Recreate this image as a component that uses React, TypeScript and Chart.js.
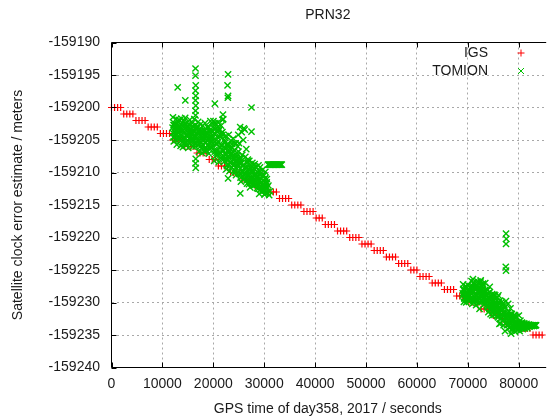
import React, { useEffect, useRef } from 'react';
import { Chart, registerables } from 'chart.js';

Chart.register(...registerables);

// ---------- axes / text ----------
const X_MIN = 0;
const X_MAX = 85000;
const Y_MIN = -159240;
const Y_MAX = -159190;
const xTicks = [0, 10000, 20000, 30000, 40000, 50000, 60000, 70000, 80000];
const yTicks = [-159240, -159235, -159230, -159225, -159220, -159215, -159210, -159205, -159200, -159195, -159190];

const TITLE = 'PRN32';
const X_TITLE = 'GPS time of day358, 2017 / seconds';
const Y_TITLE = 'Satellite clock error estimate / meters';
const SERIES_LABELS = ['IGS', 'TOMION'];
const SERIES_COLORS = ['#ff0000', '#00c000'];

// ---------- IGS (sampled every 600 s from 0 s) ----------
const IGS_START = 0;
const IGS_INTERVAL = 600;
const igsValues = [
  -159200, -159200, -159200, -159200,
  -159201, -159201, -159201, -159201,
  -159202, -159202, -159202, -159202,
  -159203, -159203, -159203, -159203,
  -159204, -159204, -159204, -159204,
  -159205, -159205, -159205, -159205,
  -159206, -159206, -159206, -159206,
  -159207, -159207, -159207, -159207,
  -159208, -159208, -159208,
  -159209, -159209, -159209, -159209,
  -159210, -159210, -159210, -159210,
  -159211, -159211, -159211, -159211,
  -159212, -159212, -159212, -159212,
  -159213, -159213, -159213, -159213,
  -159214, -159214, -159214, -159214,
  -159215, -159215, -159215, -159215,
  -159216, -159216, -159216, -159216,
  -159217, -159217, -159217,
  -159218, -159218, -159218, -159218,
  -159219, -159219, -159219, -159219,
  -159220, -159220, -159220, -159220,
  -159221, -159221, -159221, -159221,
  -159222, -159222, -159222, -159222,
  -159223, -159223, -159223, -159223,
  -159224, -159224, -159224, -159224,
  -159225, -159225, -159225,
  -159226, -159226, -159226, -159226,
  -159227, -159227, -159227, -159227,
  -159228, -159228, -159228, -159228,
  -159229, -159229, -159229, -159229,
  -159230, -159230, -159230, -159230,
  -159231, -159231, -159231, -159231,
  -159232, -159232, -159232, -159232,
  -159233, -159233, -159233, -159233, -159233,
  -159234, -159234, -159234, -159234,
  -159235, -159235, -159235, -159235,
];

// ---------- TOMION ----------
const TOMION_INTERVAL = 150;
// first arc, samples from 12000 s
const TOMION_A_START = 12000;
const tomionAValues = [
  -159203.1, -159204.6, -159202.4, -159203.8, -159205.0, -159202.9, -159204.1, -159203.3, -159201.9, -159204.8, -159203.6,
  -159204.2, -159202.8, -159205.3, -159203.5, -159204.9, -159202.5, -159203.9, -159205.8, -159204.4, -159203.1, -159202.6,
  -159204.7, -159205.5, -159203.4, -159204.0, -159202.9, -159205.1, -159203.7, -159204.5, -159206.0, -159203.2, -159204.3, -159205.2,
  -159204.1, -159205.6, -159203.3, -159204.8, -159206.2, -159203.9, -159205.0, -159204.3, -159206.7, -159203.6,
  -159205.4, -159204.6, -159203.1, -159205.9, -159204.9, -159206.4, -159204.0, -159205.2, -159203.7, -159206.0,
  -159203.2, -159206.5, -159204.1, -159207.4, -159203.6, -159205.3, -159202.9, -159206.9, -159204.5, -159207.8, -159203.9, -159205.8, -159206.6,
  -159206.1, -159208.3, -159205.4, -159207.2, -159208.9, -159206.6, -159205.8, -159207.8, -159206.3, -159208.6, -159207.0, -159205.6, -159208.0,
  -159207.5, -159209.6, -159208.2, -159210.4, -159207.0, -159209.0, -159204.2, -159205.5, -159208.6, -159210.8, -159207.8, -159209.9, -159208.9, -159211.0, -159209.3, -159210.1,
  -159209.1, -159211.2, -159208.5, -159210.3, -159211.8, -159209.6, -159210.9, -159208.9, -159211.5, -159210.0, -159209.4, -159212.0, -159210.6,
  -159210.2, -159211.9, -159210.8, -159212.5, -159211.1, -159209.8, -159212.2, -159211.5, -159210.5, -159212.8, -159211.3, -159212.0, -159210.9, -159212.6, -159211.7, -159212.3,
];
// first arc, interleaved samples from 12075 s
const TOMION_A2_START = 12075;
const tomionA2Values = [
  -159201.5, -159205.2, -159202.7, -159204.3, -159201.8, -159205.7, -159203.0, -159202.2, -159204.9, -159202.0,
  -159205.9, -159201.7, -159203.6, -159206.1, -159202.1, -159204.6, -159201.6, -159205.4, -159203.0, -159202.3, -159206.2, -159204.0,
  -159201.9, -159205.0, -159203.8, -159202.4, -159206.0, -159204.4, -159201.8, -159205.6, -159202.7, -159203.3, -159205.7,
  -159202.2, -159206.8, -159203.4, -159202.6, -159205.3, -159207.0, -159202.8, -159204.6, -159206.3, -159202.4,
  -159203.9, -159206.6, -159205.1, -159202.9, -159207.1, -159203.5, -159202.1, -159206.2, -159204.8, -159202.5,
  -159202.1, -159208.2, -159204.8, -159202.6, -159207.0, -159205.6, -159202.3, -159208.4, -159203.4, -159206.2, -159202.8, -159207.6, -159204.2, -159208.0, -159205.0, -159207.2,
  -159204.4, -159209.5, -159205.9, -159208.1, -159204.2, -159209.8, -159207.3, -159205.1, -159209.2, -159206.8,
  -159204.8, -159208.7, -159210.0, -159205.5, -159207.6, -159209.4, -159206.0, -159208.4, -159210.2,
  -159203.0, -159211.4, -159203.8, -159209.7, -159205.0, -159211.0, -159203.4, -159210.3, -159206.4, -159211.7, -159208.0, -159210.6,
  -159208.2, -159212.3, -159209.4, -159211.0, -159208.5, -159212.0, -159210.4, -159208.7, -159211.8, -159209.2, -159212.4, -159210.7, -159208.9,
  -159213.3, -159209.2, -159211.6, -159213.0, -159209.6, -159212.7, -159210.4, -159213.4, -159209.9, -159212.4, -159211.0, -159213.1, -159212.0, -159213.5, -159212.9,
];
// first arc, interleaved samples from 12040 s
const TOMION_A3_START = 12040;
const tomionA3Values = [
  -159203.9, -159202.7, -159204.5, -159203.2, -159204.0, -159202.6, -159203.6, -159204.7, -159203.0, -159202.9, -159204.3,
  -159203.4, -159205.0, -159202.9, -159204.6, -159203.8, -159205.4, -159203.1, -159204.2, -159202.8, -159205.1, -159203.9, -159204.8,
  -159203.3, -159205.3, -159204.1, -159202.9, -159204.9, -159203.6, -159205.5, -159204.4, -159203.0, -159204.7, -159203.7,
  -159205.1, -159203.8, -159206.0, -159204.4, -159203.6, -159205.7, -159204.9, -159203.5, -159205.4, -159206.2,
  -159204.2, -159203.9, -159205.8, -159204.7, -159203.7, -159205.2, -159206.1, -159204.5, -159203.6, -159205.5,
  -159204.0, -159206.8, -159203.3, -159205.6, -159207.3, -159204.6, -159203.5, -159206.1, -159207.0, -159204.3, -159205.9, -159203.8, -159206.6, -159207.5, -159205.2,
  -159206.4, -159208.0, -159205.7, -159207.5, -159208.8, -159206.9, -159205.9, -159208.4, -159207.1, -159206.2,
  -159208.9, -159207.8, -159206.6, -159205.6, -159208.2, -159207.4, -159208.7, -159206.8, -159207.9,
  -159207.9, -159210.2, -159208.6, -159207.3, -159209.8, -159208.9, -159210.5, -159207.6, -159209.3, -159210.0, -159208.3, -159209.6,
  -159210.1, -159211.5, -159209.3, -159210.8, -159211.7, -159209.7, -159211.1, -159210.4, -159209.1, -159211.3, -159210.6, -159209.9, -159211.8,
  -159211.4, -159210.3, -159212.6, -159211.0, -159212.2, -159210.6, -159211.8, -159212.8, -159210.9, -159212.0, -159211.5,
];
// second arc, samples from 69000 s
const TOMION_B_START = 69000;
const tomionBValues = [
  -159228.6, -159227.9, -159229.3, -159228.2, -159229.6, -159227.6, -159228.9, -159229.1, -159228.0, -159229.5, -159228.4,
  -159227.5, -159229.2, -159228.3, -159229.8, -159227.2, -159228.7, -159229.4, -159228.0, -159227.8, -159229.6,
  -159228.5, -159227.0, -159229.0, -159228.2, -159229.9, -159227.6, -159228.8, -159229.3, -159228.1, -159230.1,
  -159229.0, -159230.6, -159228.6, -159229.8, -159231.0, -159229.3, -159230.2, -159228.9, -159230.9, -159229.6, -159230.4, -159231.2, -159229.9,
  -159230.5, -159232.1, -159231.0, -159229.9, -159231.7, -159230.8, -159232.4, -159231.3, -159230.3, -159232.0, -159231.5, -159230.7, -159232.3,
  -159232.2, -159233.5, -159231.6, -159232.9, -159233.9, -159232.5, -159231.9, -159233.2, -159234.0, -159232.7, -159233.6, -159232.3, -159233.3,
  -159233.4, -159233.8, -159233.1, -159233.6, -159234.1, -159233.3, -159233.7, -159233.5, -159233.2, -159233.9, -159233.6, -159233.4, -159233.5,
  -159233.7, -159233.6, -159233.5, -159233.5, -159233.6, -159233.5, -159233.5, -159233.6, -159233.5, -159233.5, -159233.6, -159233.5, -159233.5, -159233.5,
];
// second arc, interleaved samples from 69075 s
const TOMION_B2_START = 69075;
const tomionB2Values = [
  -159227.2, -159229.9, -159228.3, -159227.5, -159230.0, -159228.8, -159227.3, -159229.7, -159228.0, -159229.0, -159227.7,
  -159226.7, -159230.2, -159228.4, -159226.9, -159229.7, -159227.4, -159230.4, -159228.9, -159226.8, -159229.2, -159227.7,
  -159230.0, -159226.6, -159228.6, -159229.9, -159227.1, -159230.3, -159228.3, -159227.0, -159229.5, -159230.4,
  -159228.1, -159231.5, -159229.4, -159228.4, -159231.8, -159230.3, -159228.7, -159231.2, -159229.7, -159231.9, -159228.9, -159230.8,
  -159231.6, -159229.2, -159231.0, -159230.0,
  -159229.7, -159233.2, -159231.1, -159229.9, -159232.7, -159233.5, -159230.4, -159232.2, -159229.8, -159233.0, -159231.6, -159230.2,
  -159233.4, -159232.4, -159230.9,
  -159231.7, -159234.3, -159232.4, -159233.8, -159231.9, -159234.5, -159233.0, -159232.2, -159234.2, -159233.5, -159232.0, -159234.4,
  -159232.8, -159233.9,
  -159233.1, -159234.1, -159233.5, -159233.2, -159234.0, -159233.6, -159233.3, -159233.9, -159233.5, -159233.4, -159233.7, -159233.6,
  -159233.5, -159233.6, -159233.5, -159233.5, -159233.6, -159233.5, -159233.5,
];
// second arc, interleaved samples from 69040 s
const TOMION_B3_START = 69040;
const tomionB3Values = [
  -159228.9, -159228.1, -159229.4, -159228.5, -159227.9, -159229.2, -159228.7, -159229.5, -159228.3, -159229.0, -159227.8,
  -159228.6, -159227.4, -159229.5, -159228.2, -159229.1, -159227.7, -159228.9, -159229.8, -159227.5, -159228.4,
  -159229.3, -159227.9, -159228.8, -159229.6, -159228.0, -159227.3, -159229.0, -159228.5, -159229.7, -159228.2,
  -159229.8, -159228.9, -159230.7, -159229.4, -159230.1, -159231.0, -159229.1, -159230.4, -159229.6, -159230.9, -159228.8, -159230.2, -159229.9,
  -159231.2, -159230.4, -159232.3, -159230.9, -159231.6, -159232.5, -159230.6, -159231.9, -159230.2, -159232.1, -159231.4, -159230.8, -159232.4,
  -159232.6, -159231.9, -159233.4, -159232.2, -159233.0, -159233.8, -159232.4, -159231.8, -159233.6, -159232.8, -159233.2, -159232.0, -159233.7,
  -159233.3, -159233.7, -159233.5, -159233.9, -159233.4, -159233.6, -159233.2, -159233.8, -159233.5, -159233.6,
  -159233.4, -159233.5, -159233.7, -159233.5, -159233.6, -159233.5, -159233.5, -159233.6, -159233.5, -159233.5,
];
// flat segment after the first arc
const tomionBarTimes = [
  30750, 30900, 31050, 31200, 31350, 31500, 31650, 31800, 31950, 32100,
  32250, 32400, 32550, 32700, 32850, 33000, 33150, 33300, 33450,
];
const tomionBarValues = [
  -159208.8, -159208.8, -159208.8, -159208.8, -159208.8, -159208.8, -159208.8, -159208.8, -159208.8, -159208.8,
  -159208.8, -159208.8, -159208.8, -159208.8, -159208.8, -159208.8, -159208.8, -159208.8, -159208.8,
];
// scattered outliers
const tomionExtraTimes = [
  16500, 16500, 16550, 16500, 16550, 16500, 16550, 16500, 16500,
  16550, 16500, 16550,
  22900, 22800, 22900, 22850,
  13000, 14500, 20300, 20400, 27500, 27500, 22900, 25300, 30200, 21800, 26000, 21900, 21950,
  77500, 77550, 77500, 77450, 77500,
  71000, 72500, 74300, 76000, 72300, 74800, 77300, 78500, 76200,
];
const tomionExtraValues = [
  -159194.0, -159195.1, -159196.6, -159197.4, -159198.2, -159198.9, -159199.7, -159200.5, -159201.2,
  -159207.9, -159208.6, -159209.3,
  -159194.9, -159196.6, -159198.2, -159198.5,
  -159196.9, -159198.9, -159199.4, -159202.4, -159200.0, -159203.7, -159210.9, -159213.2, -159213.2, -159201.9, -159203.2, -159201.1, -159201.8,
  -159219.4, -159220.2, -159221.0, -159224.5, -159225.1,
  -159226.4, -159226.8, -159227.6, -159228.9, -159231.0, -159232.0, -159234.4, -159234.8, -159233.3,
];

const FONT_FAMILY = "'Liberation Sans', Arial, sans-serif";
const TEXT_COLOR = '#1a1a1a';

const framePlugin = {
  id: 'gnuplotFrame',
  afterDatasetsDraw(chart: any) {
    const { ctx, chartArea: a, scales } = chart;
    const xs = scales.x;
    const ys = scales.y;
    ctx.save();
    ctx.strokeStyle = '#000000';
    ctx.lineWidth = 1;
    ctx.setLineDash([]);
    ctx.beginPath();
    ctx.moveTo(a.left, a.top);
    ctx.lineTo(a.right + 2, a.top);
    ctx.moveTo(a.left, a.top);
    ctx.lineTo(a.left, a.bottom);
    ctx.moveTo(a.left, a.bottom);
    ctx.lineTo(a.right + 2, a.bottom);
    const tl = 5;
    for (const t of xs.ticks) {
      const px = Math.round(xs.getPixelForValue(t.value)) + 0.5;
      ctx.moveTo(px, a.bottom);
      ctx.lineTo(px, a.bottom - tl);
      ctx.moveTo(px, a.top);
      ctx.lineTo(px, a.top + tl);
    }
    for (const t of ys.ticks) {
      const py = Math.round(ys.getPixelForValue(t.value)) + 0.5;
      ctx.moveTo(a.left, py);
      ctx.lineTo(a.left + tl, py);
    }
    ctx.stroke();
    ctx.restore();
  },
  afterDraw(chart: any) {
    const { ctx, chartArea: a } = chart;
    ctx.save();
    ctx.font = `14px ${FONT_FAMILY}`;
    ctx.fillStyle = TEXT_COLOR;
    ctx.textAlign = 'right';
    ctx.textBaseline = 'middle';
    const textRight = 488;
    const markX = 521;
    const rows = [a.top + 10.5, a.top + 28.5];
    chart.data.datasets.forEach((ds: any, i: number) => {
      const y = rows[i];
      ctx.fillText(ds.label, textRight, y);
      ctx.strokeStyle = ds.borderColor;
      ctx.lineWidth = 1;
      ctx.beginPath();
      if (ds.pointStyle === 'cross') {
        ctx.moveTo(markX - 3.5, y);
        ctx.lineTo(markX + 3.5, y);
        ctx.moveTo(markX, y - 3.5);
        ctx.lineTo(markX, y + 3.5);
      } else {
        ctx.moveTo(markX - 3, y - 3);
        ctx.lineTo(markX + 3, y + 3);
        ctx.moveTo(markX - 3, y + 3);
        ctx.lineTo(markX + 3, y - 3);
      }
      ctx.stroke();
    });
    ctx.restore();
  },
};

const setTicks = (values: number[]) => (s: any) => {
  s.ticks = values.map((v) => ({ value: v }));
};

const seq = (start: number, values: number[]) =>
  values.map((v, i) => ({ x: start + i * TOMION_INTERVAL, y: v }));

export default function App() {
  const canvasRef = useRef<HTMLCanvasElement | null>(null);

  useEffect(() => {
    if (!canvasRef.current) return;
    const igsData = igsValues.map((v, i) => ({ x: IGS_START + i * IGS_INTERVAL, y: v }));
    const tomionData = [
      ...seq(TOMION_A_START, tomionAValues),
      ...seq(TOMION_A2_START, tomionA2Values),
      ...seq(TOMION_A3_START, tomionA3Values),
      ...tomionBarTimes.map((t, i) => ({ x: t, y: tomionBarValues[i] })),
      ...seq(TOMION_B_START, tomionBValues),
      ...seq(TOMION_B2_START, tomionB2Values),
      ...seq(TOMION_B3_START, tomionB3Values),
      ...tomionExtraTimes.map((t, i) => ({ x: t, y: tomionExtraValues[i] })),
    ];
    const font = { family: FONT_FAMILY, size: 14, weight: 'normal' as const };

    const chart = new Chart(canvasRef.current, {
      type: 'scatter',
      data: {
        datasets: [
          {
            label: SERIES_LABELS[0],
            data: igsData,
            pointStyle: 'cross',
            pointRadius: 3.5,
            pointHoverRadius: 3.5,
            borderColor: SERIES_COLORS[0],
            backgroundColor: SERIES_COLORS[0],
            borderWidth: 1.2,
            order: 1,
            clip: false,
          } as any,
          {
            label: SERIES_LABELS[1],
            data: tomionData,
            pointStyle: 'crossRot',
            pointRadius: 4.4,
            pointHoverRadius: 4.4,
            borderColor: SERIES_COLORS[1],
            backgroundColor: SERIES_COLORS[1],
            borderWidth: 1.4,
            order: 0,
            clip: false,
          } as any,
        ],
      },
      options: {
        animation: false,
        responsive: false,
        devicePixelRatio: 1,
        events: [],
        layout: { padding: { left: 0, right: 0, top: 0, bottom: 0 } },
        plugins: {
          legend: { display: false },
          tooltip: { enabled: false },
          title: {
            display: true,
            text: TITLE,
            fullSize: false,
            color: TEXT_COLOR,
            font,
            padding: { top: 6.6, bottom: 19.1 },
          },
        },
        scales: {
          x: {
            type: 'linear',
            position: 'bottom',
            min: X_MIN,
            max: X_MAX,
            afterBuildTicks: setTicks(xTicks),
            afterFit: (s: any) => {
              s.height = 51.5;
            },
            ticks: {
              autoSkip: false,
              maxRotation: 0,
              padding: 8,
              color: TEXT_COLOR,
              font,
              callback: (v: any) => String(v),
            },
            grid: { drawTicks: false, color: '#a8a8a8', lineWidth: 1 },
            border: { display: false, dash: [2, 3] },
            title: {
              display: true,
              text: X_TITLE,
              color: TEXT_COLOR,
              font,
              padding: { top: 0, bottom: 1.6 },
            },
          },
          y: {
            type: 'linear',
            min: Y_MIN,
            max: Y_MAX,
            afterBuildTicks: setTicks(yTicks),
            afterFit: (s: any) => {
              s.width = 111.5;
            },
            ticks: {
              autoSkip: false,
              padding: 11.5,
              color: TEXT_COLOR,
              font,
              callback: (v: any) => String(v),
            },
            grid: { drawTicks: false, color: '#a8a8a8', lineWidth: 1 },
            border: { display: false, dash: [2, 3] },
            title: {
              display: true,
              text: Y_TITLE,
              color: TEXT_COLOR,
              font,
              padding: { top: 9.6, bottom: 0 },
            },
          },
        },
      } as any,
      plugins: [framePlugin],
    });
    return () => chart.destroy();
  }, []);

  return (
    <div style={{ position: 'fixed', left: 0, top: 0, width: 550, height: 419, background: '#ffffff', overflow: 'hidden' }}>
      <canvas ref={canvasRef} width={550} height={419} style={{ display: 'block', width: 550, height: 419 }} />
    </div>
  );
}
